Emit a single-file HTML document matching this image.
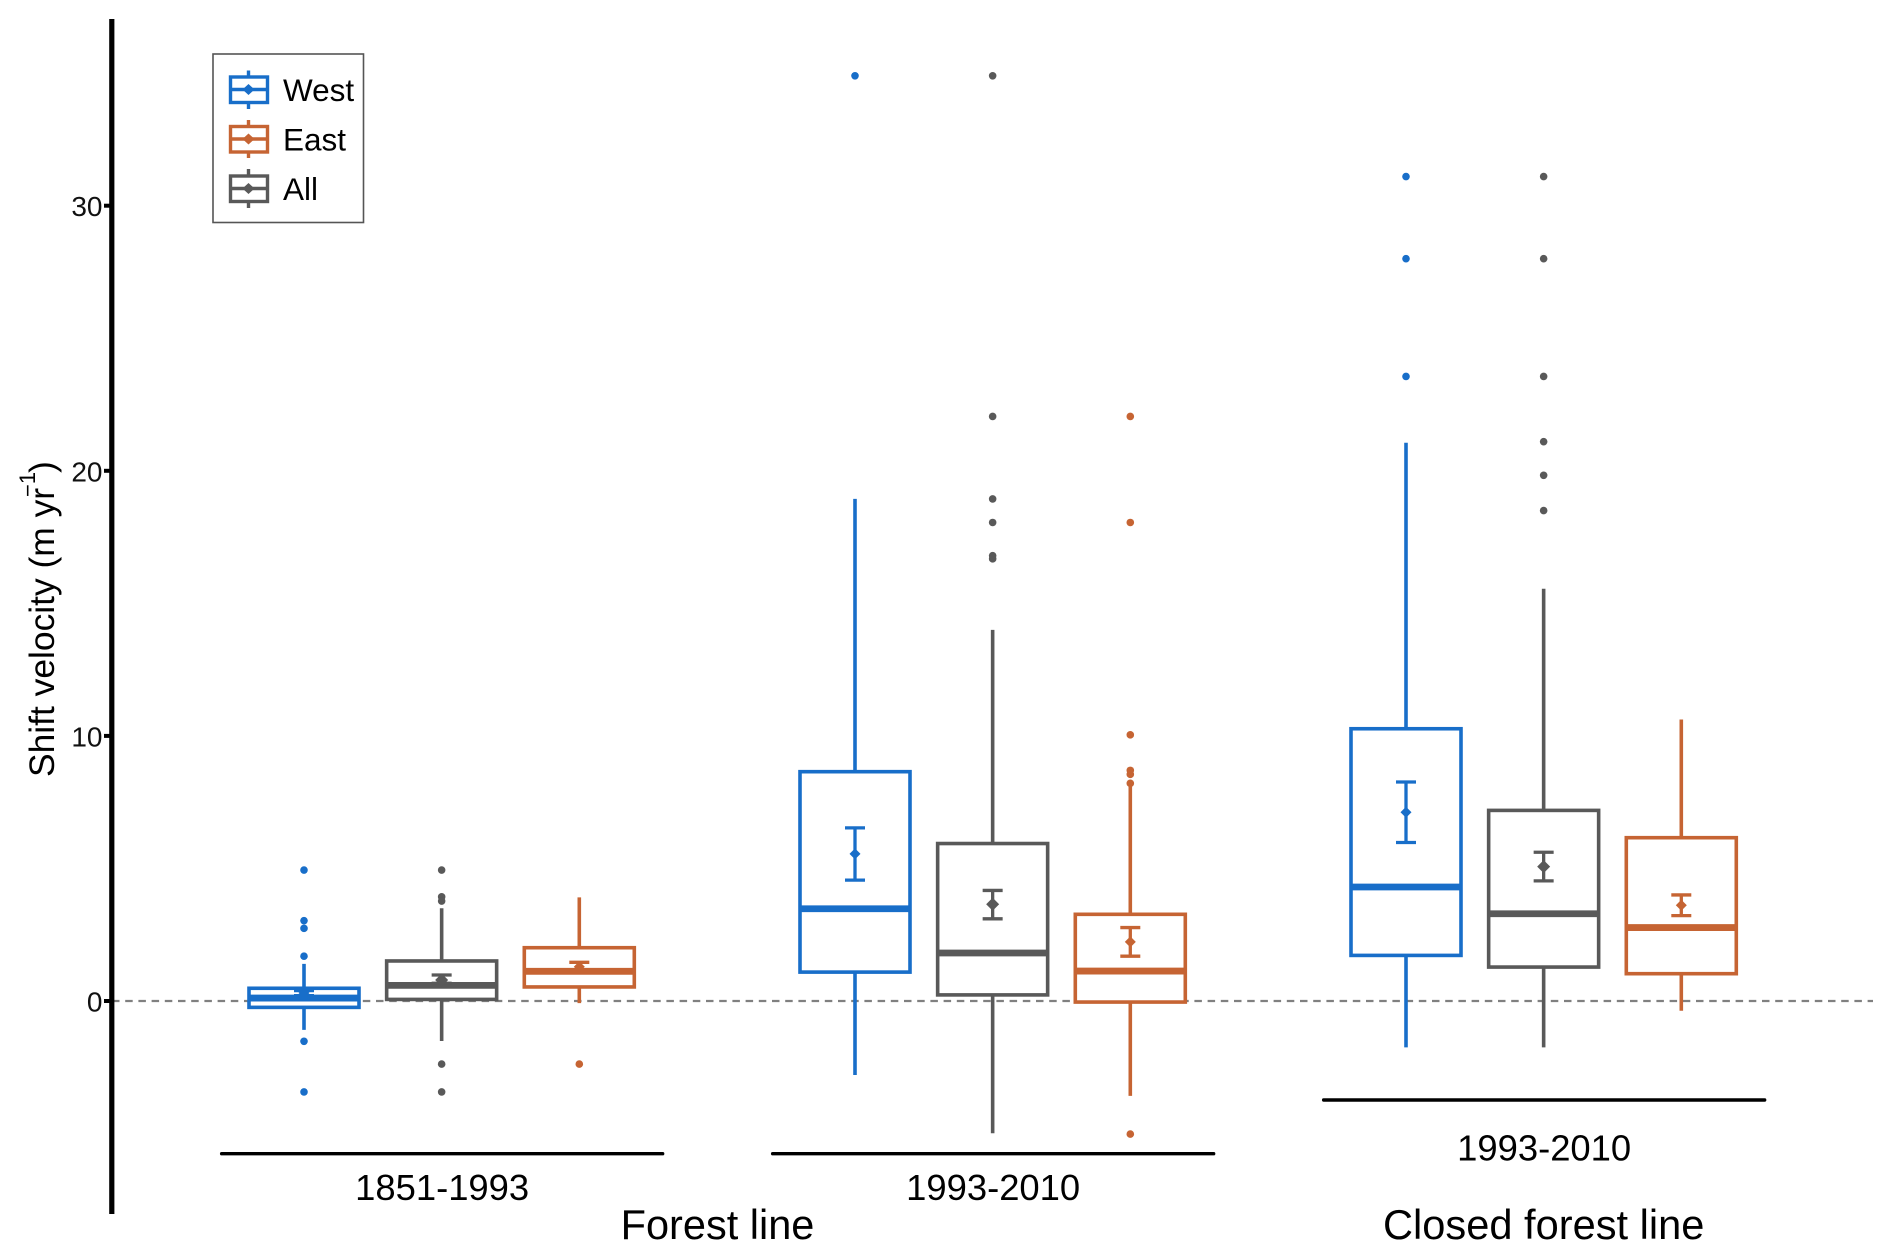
<!DOCTYPE html>
<html lang="en">
<head>
<meta charset="utf-8">
<title>Shift velocity box plots</title>
<style>
html,body{margin:0;padding:0;background:#fff;}
svg{display:block;font-family:"Liberation Sans",Arial,sans-serif;}
</style>
</head>
<body>
<svg id="chart" xmlns="http://www.w3.org/2000/svg" width="1892" height="1259" viewBox="0 0 1892 1259">
  <rect x="0" y="0" width="1892" height="1259" fill="#ffffff"/>
  <g id="plot"></g>
  <g transform="translate(54,777) rotate(-90)" fill="#000">
    <text x="0" y="0" font-size="35.4">Shift velocity (m yr</text>
    <text x="280" y="-19" font-size="22">−1</text>
    <text x="304" y="0" font-size="35.4">)</text>
  </g>
  <g>
    <rect x="213" y="54" width="150.5" height="168.5" fill="#fff" stroke="#555" stroke-width="1.6"/>
    <g stroke="#186ec9" fill="none" stroke-width="3.4">
      <line x1="248.5" x2="248.5" y1="70.5" y2="109"/>
      <rect x="230.5" y="77" width="37" height="25.5" fill="#fff"/>
      <line x1="230" x2="267" y1="89.5" y2="89.5"/>
      <polygon points="248.5,84 254.5,89.5 248.5,95 242.5,89.5" fill="#186ec9" stroke="none"/>
      <text x="283" y="101" font-size="31.5" fill="#000" stroke="none">West</text>
    </g>
    <g stroke="#c66433" fill="none" stroke-width="3.4">
      <line x1="248.5" x2="248.5" y1="120" y2="158"/>
      <rect x="230.5" y="126.5" width="37" height="25.5" fill="#fff"/>
      <line x1="230" x2="267" y1="139" y2="139"/>
      <polygon points="248.5,133.5 254.5,139 248.5,144.5 242.5,139" fill="#c66433" stroke="none"/>
      <text x="283" y="150.7" font-size="31.5" fill="#000" stroke="none">East</text>
    </g>
    <g stroke="#595959" fill="none" stroke-width="3.4">
      <line x1="248.5" x2="248.5" y1="169" y2="208"/>
      <rect x="230.5" y="176" width="37" height="25.5" fill="#fff"/>
      <line x1="230" x2="267" y1="188.5" y2="188.5"/>
      <polygon points="248.5,183 254.5,188.5 248.5,194 242.5,188.5" fill="#595959" stroke="none"/>
      <text x="283" y="200" font-size="31.5" fill="#000" stroke="none">All</text>
    </g>
  </g>
</svg>
<script>
const groupLabels = ["1851-1993", "1993-2010", "1993-2010"];
const yTicks = [0, 10, 20, 30];

const westLow = [-1.09, -2.79, -1.75];
const westQ1 = [-0.24, 1.09, 1.72];
const westMedian = [0.11, 3.48, 4.30];
const westQ3 = [0.48, 8.65, 10.27];
const westHigh = [1.40, 18.94, 21.06];
const westMean = [0.30, 5.55, 7.12];
const westSeLow = [0.20, 4.56, 5.98];
const westSeHigh = [0.39, 6.53, 8.26];
const westOutliers = [[4.94, 3.03, 2.74, 1.69, -1.52, -3.43], [34.9], [31.1, 28.0, 23.56]];

const allLow = [-1.51, -4.99, -1.75];
const allQ1 = [0.06, 0.23, 1.28];
const allMedian = [0.59, 1.81, 3.29];
const allQ3 = [1.51, 5.94, 7.19];
const allHigh = [3.50, 14.0, 15.55];
const allMean = [0.79, 3.65, 5.07];
const allSeLow = [0.67, 3.10, 4.53];
const allSeHigh = [0.98, 4.17, 5.61];
const allOutliers = [[4.94, 3.93, 3.77, -2.38, -3.43], [34.9, 22.05, 18.94, 18.05, 16.8, 16.68], [31.1, 28.0, 23.56, 21.1, 19.83, 18.5]];

const eastLow = [-0.08, -3.58, -0.37];
const eastQ1 = [0.53, -0.04, 1.03];
const eastMedian = [1.12, 1.13, 2.77];
const eastQ3 = [2.01, 3.27, 6.16];
const eastHigh = [3.91, 8.21, 10.62];
const eastMean = [1.29, 2.23, 3.61];
const eastSeLow = [1.14, 1.69, 3.22];
const eastSeHigh = [1.46, 2.77, 4.00];
const eastOutliers = [[-2.38], [22.05, 18.05, 10.04, 8.7, 8.55, 8.21, -5.02], []];

const NS = "http://www.w3.org/2000/svg";
const plot = document.getElementById("plot");

function yScale(v) { return 1001 - 26.51 * v; }
function xScale(group, slot) { return 304 + group * 551 + slot * 137.65; }

function make(tag, attrs, parent) {
  const el = document.createElementNS(NS, tag);
  for (const k in attrs) el.setAttribute(k, attrs[k]);
  (parent || plot).appendChild(el);
  return el;
}

/* y axis */
const refLine = make("line", {x1: 112, x2: 1873, y1: yScale(0), y2: yScale(0), stroke: "#808080", "stroke-width": 2.2, "stroke-dasharray": "7.5 5.7"});



const axisLine = make("line", {x1: 111.8, x2: 111.8, y1: 19, y2: 1214, stroke: "#000", "stroke-width": 5.2});



yTicks.forEach(function (t) {
  const tick = make("line", {x1: 104, x2: 112, y1: yScale(t), y2: yScale(t), stroke: "#000", "stroke-width": 4});
  
  
  const label = make("text", {x: 102.5, y: yScale(t) + 10.5, "text-anchor": "end", "font-size": 28, fill: "#111"});
  
  
  label.textContent = t;
});

/* series */
const series = [
  {name: "west", color: "#186ec9", slot: 0, low: westLow, q1: westQ1, med: westMedian, q3: westQ3, high: westHigh, mean: westMean, seLow: westSeLow, seHigh: westSeHigh, out: westOutliers, dia: 5.5},
  {name: "all", color: "#595959", slot: 1, low: allLow, q1: allQ1, med: allMedian, q3: allQ3, high: allHigh, mean: allMean, seLow: allSeLow, seHigh: allSeHigh, out: allOutliers, dia: 6.5},
  {name: "east", color: "#c66433", slot: 2, low: eastLow, q1: eastQ1, med: eastMedian, q3: eastQ3, high: eastHigh, mean: eastMean, seLow: eastSeLow, seHigh: eastSeHigh, out: eastOutliers, dia: 5.5}
];

groupLabels.forEach(function (label, g) {
  series.forEach(function (s) {
    const cx = xScale(g, s.slot);
    const halfBox = 55;
    const group = make("g", {stroke: s.color, fill: "none"});
    
    

    const whisker = make("line", {x1: cx, x2: cx, y1: yScale(s.low[g]), y2: yScale(s.high[g]), "stroke-width": 3.6}, group);
    
    

    const box = make("rect", {x: cx - halfBox, y: yScale(s.q3[g]), width: halfBox * 2, height: yScale(s.q1[g]) - yScale(s.q3[g]), fill: "#fff", "stroke-width": 3.6}, group);
    
    

    const median = make("line", {x1: cx - halfBox, x2: cx + halfBox, y1: yScale(s.med[g]), y2: yScale(s.med[g]), "stroke-width": 6.8}, group);
    
    

    const seStem = make("line", {x1: cx, x2: cx, y1: yScale(s.seLow[g]), y2: yScale(s.seHigh[g]), "stroke-width": 3.3}, group);
    
    

    [s.seLow[g], s.seHigh[g]].forEach(function (v) {
      const cap = make("line", {x1: cx - 10, x2: cx + 10, y1: yScale(v), y2: yScale(v), "stroke-width": 3.3}, group);
      
      
    });

    const my = yScale(s.mean[g]);
    const d = s.dia;
    const mean = make("polygon", {points: cx + "," + (my - d) + " " + (cx + d) + "," + my + " " + cx + "," + (my + d) + " " + (cx - d) + "," + my, fill: s.color, stroke: "none"}, group);
    
    

    s.out[g].forEach(function (v) {
      const dot = make("circle", {cx: cx, cy: yScale(v), r: 3.8, fill: s.color, stroke: "none"}, group);
      
      
    });
  });

  /* group annotation */
  const center = xScale(g, 1);
  const closed = g === 2;
  const bracketY = closed ? 1100 : 1153.7;
  const bracket = make("line", {x1: center - 220, x2: center + 221, y1: bracketY, y2: bracketY, stroke: "#000", "stroke-width": 3.4, "stroke-linecap": "round"});
  
  
  const period = make("text", {x: center + 0.5, y: closed ? 1160.7 : 1200, "text-anchor": "middle", "font-size": 36.4, fill: "#000"});
  
  
  period.textContent = label;
});

const forestLabel = make("text", {x: 717.5, y: 1239, "text-anchor": "middle", "font-size": 41.5, fill: "#000"});


forestLabel.textContent = "Forest line";

const closedLabel = make("text", {x: 1543.7, y: 1239, "text-anchor": "middle", "font-size": 41.6, fill: "#000"});


closedLabel.textContent = "Closed forest line";
</script>
</body>
</html>
